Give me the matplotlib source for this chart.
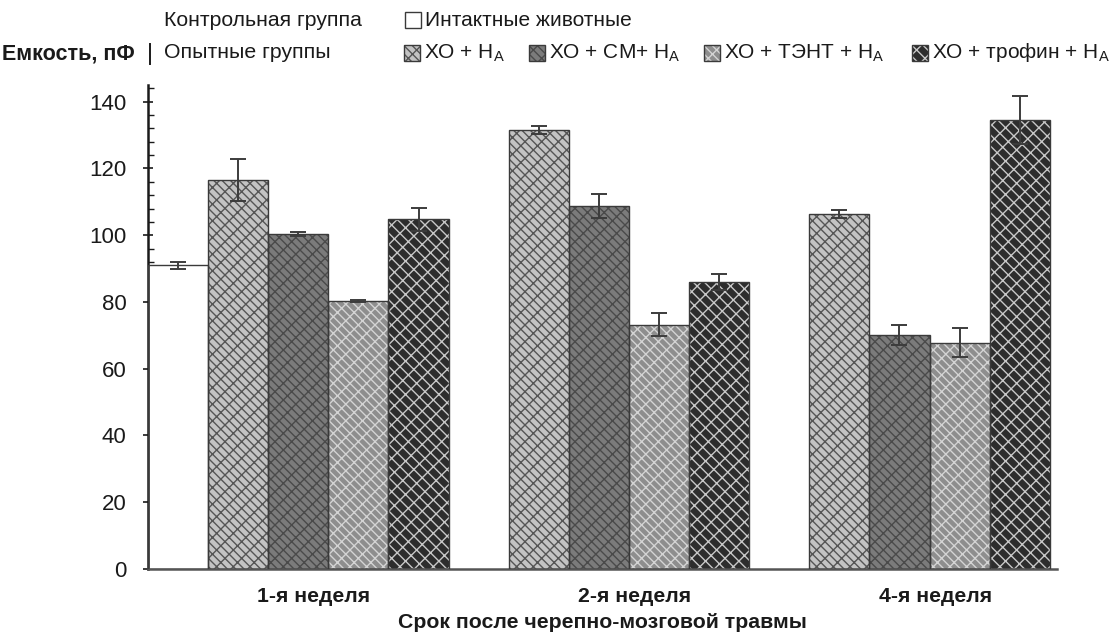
import matplotlib
matplotlib.use("Agg")
import matplotlib.pyplot as plt
import numpy as np
from matplotlib.patches import Rectangle
from matplotlib.lines import Line2D
from matplotlib.ticker import MultipleLocator

plt.rcParams['font.family'] = ['Liberation Sans', 'DejaVu Sans']
plt.rcParams['hatch.linewidth'] = 1.0
plt.rcParams['mathtext.default'] = 'regular'

# --- data -------------------------------------------------------------
weeks = ["1-я неделя", "2-я неделя", "4-я неделя"]
series = ["Интактные животные", "ХО + Н$_{А}$", "ХО + СМ+ Н$_{А}$",
          "ХО + ТЭНТ + Н$_{А}$", "ХО + трофин + Н$_{А}$"]
control_vals = [91.0, np.nan, np.nan]
control_err = [1.0, np.nan, np.nan]
xo_vals = [116.5, 131.5, 106.5]
xo_err = [6.3, 1.2, 1.2]
sm_vals = [100.3, 108.8, 70.0]
sm_err = [0.6, 3.6, 3.0]
tent_vals = [80.2, 73.2, 67.8]
tent_err = [0.3, 3.5, 4.4]
trofin_vals = [104.8, 86.0, 134.5]
trofin_err = [3.4, 2.4, 7.2]

values = [control_vals, xo_vals, sm_vals, tent_vals, trofin_vals]
errors = [control_err, xo_err, sm_err, tent_err, trofin_err]

faces = ["white", "#c3c3c3", "#7b7b7b", "#8e8e8e", "#2d2d2d"]
hatch_cols = ["white", "#555555", "#4a4a4a", "#d4d4d4", "#c8c8c8"]
hatches = [None, r"\\\\//", r"\\\\//", r"\\\\//", r"\\\//"]
edge = "#3a3a3a"

fig = plt.figure(figsize=(11.13, 6.33), dpi=100)
ax = fig.add_axes([148 / 1113, 64 / 633, (1057 - 148) / 1113, (569 - 85) / 633])

n = len(series)
for i in range(n):
    xs = np.arange(len(weeks)) * n + i + 0.5
    v = np.array(values[i], dtype=float)
    ok = ~np.isnan(v)
    # fill + hatch layer
    ax.bar(xs[ok], v[ok], width=1.0, color=faces[i], edgecolor=hatch_cols[i],
           hatch=hatches[i], linewidth=0, zorder=2)
    # outline layer
    ax.bar(xs[ok], v[ok], width=1.0, fill=False, edgecolor=edge,
           linewidth=1.0, zorder=3)
    e = np.array(errors[i], dtype=float)
    ax.errorbar(xs[ok], v[ok], yerr=e[ok], fmt="none", ecolor="#3c3c3c",
                elinewidth=1.4, capsize=6, capthick=1.4, zorder=4)

ax.set_xlim(0, 15.12)
ax.set_ylim(0, 145)
ax.yaxis.set_major_locator(MultipleLocator(20))
ax.yaxis.set_minor_locator(MultipleLocator(4))
ax.tick_params(axis="y", which="major", direction="inout", length=7,
               width=1.2, labelsize=16, pad=12, colors="#1a1a1a")
ax.tick_params(axis="y", which="minor", direction="in", length=4, width=1.0,
               colors="#1a1a1a")
# week captions sit under the four experimental bars of each group
ax.set_xticks([2.75, 8.1, 13.1])
ax.set_xticklabels(weeks, fontsize=15.3, fontweight="bold")
ax.tick_params(axis="x", length=0, pad=13, colors="#1a1a1a")

for s in ["top", "right"]:
    ax.spines[s].set_visible(False)
ax.spines["left"].set_linewidth(1.8)
ax.spines["left"].set_color("#1a1a1a")
ax.spines["bottom"].set_linewidth(1.8)
ax.spines["bottom"].set_color("#555555")

# --- header / legend ----------------------------------------------------
W, H = 1113, 633


def fx(px):
    return px / W


def fy(py):
    return 1 - py / H


fig.text(fx(602), fy(622), "Срок после черепно-мозговой травмы",
         fontsize=15.3, fontweight="bold", ha="center", va="center",
         color="#1a1a1a")
fig.text(fx(2), fy(54), "Емкость, пФ", fontsize=15.5, fontweight="bold",
         va="center", ha="left", color="#1a1a1a")
fig.add_artist(Line2D([fx(150), fx(150)], [fy(44), fy(64)], color="#1a1a1a",
                      linewidth=1.4))
fig.text(fx(164), fy(20), "Контрольная группа", fontsize=15.3, va="center",
         ha="left", color="#1a1a1a")
fig.text(fx(164), fy(53), "Опытные группы", fontsize=15.3, va="center",
         ha="left", color="#1a1a1a")

legend_pos = [(405, 20), (404, 53), (529, 53), (704, 53), (912, 53)]
sq = 16
for i, (px, py) in enumerate(legend_pos):
    r = Rectangle((fx(px), fy(py + sq / 2)), sq / W, sq / H,
                  transform=fig.transFigure, facecolor=faces[i],
                  edgecolor=hatch_cols[i], hatch=hatches[i], linewidth=0)
    fig.add_artist(r)
    fig.add_artist(Rectangle((fx(px), fy(py + sq / 2)), sq / W, sq / H,
                             transform=fig.transFigure, fill=False,
                             edgecolor=edge, linewidth=1.0))
    fig.text(fx(px + sq + 4), fy(py), series[i], fontsize=15,
             va="center", ha="left", color="#1a1a1a")

fig.savefig("out.png", dpi=100, facecolor="white")
